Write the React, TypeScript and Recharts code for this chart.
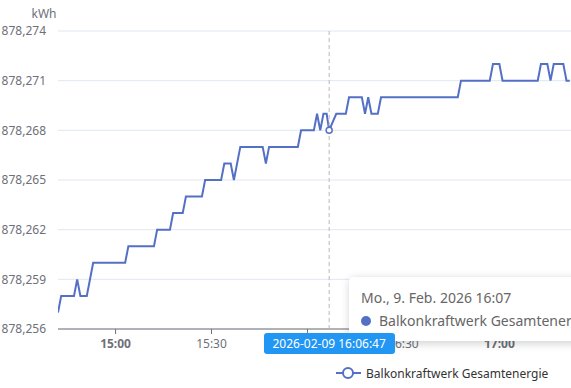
import { CartesianGrid, Legend, Line, LineChart, Tooltip, XAxis, YAxis } from "recharts"

// readings: time of day and meter value (kWh), only the points where the line turns
const times = [
  "14:42", "14:43", "14:47", "14:48", "14:49", "14:51", "14:53", "15:03", "15:04", "15:12",
  "15:13", "15:17", "15:18", "15:21", "15:22", "15:27", "15:28", "15:33", "15:34", "15:36",
  "15:37", "15:39", "15:46", "15:47", "15:48", "15:57", "15:58", "16:02", "16:03", "16:04",
  "16:05", "16:06", "16:06:47", "16:09", "16:12", "16:13", "16:17", "16:18", "16:19", "16:20",
  "16:22", "16:23", "16:47", "16:48", "16:57", "16:58", "17:00", "17:01", "17:12", "17:13",
  "17:15", "17:16", "17:17", "17:20", "17:21", "17:22",
]
const values = [
  878.257, 878.258, 878.258, 878.259, 878.258, 878.258, 878.26, 878.26, 878.261, 878.261,
  878.262, 878.262, 878.263, 878.263, 878.264, 878.264, 878.265, 878.265, 878.266, 878.266,
  878.265, 878.267, 878.267, 878.266, 878.267, 878.267, 878.268, 878.268, 878.269, 878.268,
  878.269, 878.269, 878.268, 878.269, 878.269, 878.27, 878.27, 878.269, 878.27, 878.269,
  878.269, 878.27, 878.27, 878.271, 878.271, 878.272, 878.272, 878.271, 878.271, 878.272,
  878.272, 878.271, 878.272, 878.272, 878.271, 878.271,
]
const yTicks = [878.256, 878.259, 878.262, 878.265, 878.268, 878.271, 878.274]
const xTicks = ["15:00", "15:30", "16:00", "16:30", "17:00"]
const xStart = "14:42"
const xEnd = "17:22:24"

const seriesName = "Balkonkraftwerk Gesamtenergie"
const unit = "kWh"
const hoverDate = "2026-02-09"
const hoverTime = "16:06:47"
const tooltipTitle = "Mo., 9. Feb. 2026 16:07"

const FONT = "'Noto Sans', sans-serif"
const LINE = "#5470c6"
const AXIS = "#6e7079"
const W = 571
const H = 388
const TOP = 31
const BOTTOM_SPACE = 59
const TIP = { x: 349, y: 277 }

function toMin(t: string) {
  const [h, m, s = "0"] = t.split(":")
  return Number(h) * 60 + Number(m) + Number(s) / 60
}

function fmtTime(v: number) {
  const h = Math.floor(v / 60)
  const m = Math.round(v - h * 60)
  return `${h}:${String(m).padStart(2, "0")}`
}

const data = times.map((t, i) => ({ t: toMin(t), v: values[i] }))
const hoverIndex = times.indexOf(hoverTime)

function XTick(props: any) {
  const { x, y, payload } = props
  const label = fmtTime(payload.value)
  const bold = label.endsWith(":00")
  return (
    <text x={x} y={y} dy="0.71em" textAnchor="middle" fill={AXIS} fontSize={12} fontWeight={bold ? 700 : 400}>
      {label}
    </text>
  )
}

function Pointer(props: any) {
  const { points } = props
  if (!points || points.length < 2) return null
  const x = points[0].x
  return <line x1={x} x2={x} y1={points[0].y} y2={points[1].y} stroke="#b8b8b8" strokeDasharray="4 3" />
}

function TipBox(props: any) {
  const color = props.payload?.[0]?.color || LINE
  const cx = props.coordinate?.x ?? 329.5
  const plotBottom = H - BOTTOM_SPACE
  return (
    <div style={{ position: "relative", fontFamily: FONT }}>
      <div
        style={{
          background: "#fff",
          borderRadius: 4,
          boxShadow: "rgba(0,0,0,0.2) 1px 2px 10px",
          padding: "10px 12px",
          width: 260,
          fontSize: 14,
          lineHeight: "21px",
          color: "#666",
          whiteSpace: "nowrap",
        }}
      >
        <div>{tooltipTitle}</div>
        <div style={{ marginTop: 2, display: "flex", alignItems: "center" }}>
          <span style={{ width: 10, height: 10, borderRadius: 5, background: color, marginRight: 8 }} />
          {seriesName}
        </div>
      </div>
      <div
        style={{
          position: "absolute",
          left: cx - 65.5 - TIP.x,
          top: plotBottom + 4 - TIP.y,
          width: 131,
          height: 21,
          lineHeight: "21px",
          borderRadius: 3,
          background: "#2196f3",
          color: "#fff",
          fontSize: 12,
          textAlign: "center",
          whiteSpace: "nowrap",
        }}
      >
        {hoverDate} {hoverTime}
      </div>
    </div>
  )
}

function LegendRow(props: any) {
  const item = props.payload?.[0]
  return (
    <div style={{ display: "flex", alignItems: "center", height: 30, paddingLeft: 336, fontFamily: FONT }}>
      <svg width={25} height={14} style={{ marginRight: 5 }}>
        <line x1={0} x2={25} y1={7} y2={7} stroke={LINE} strokeWidth={2} />
        <circle cx={12} cy={7} r={5} fill="#fff" stroke={LINE} strokeWidth={2} />
      </svg>
      <span style={{ fontSize: 12, color: "#333" }}>{item?.value ?? seriesName}</span>
    </div>
  )
}

export default function App() {
  return (
    <div style={{ width: W, height: H, overflow: "hidden", position: "relative" }}>
      <style>{`body{margin:0}`}</style>
      <LineChart
        width={W}
        height={H}
        data={data}
        margin={{ top: TOP, right: 0, bottom: 0, left: 0 }}
        style={{ fontFamily: FONT }}
      >
        <CartesianGrid vertical={false} stroke="#e0e6f1" />
        <YAxis
          type="number"
          domain={[yTicks[0], yTicks[yTicks.length - 1]]}
          ticks={yTicks}
          width={58}
          axisLine={false}
          tickLine={false}
          tickMargin={6}
          tick={{ fill: AXIS, fontSize: 12 }}
          tickFormatter={(v: number) => v.toFixed(3).replace(".", ",")}
          label={{
            content: (p: any) => (
              <text x={p.viewBox.x + p.viewBox.width - 14} y={p.viewBox.y - 17} dy="0.355em" textAnchor="middle" fill={AXIS} fontSize={12}>
                {unit}
              </text>
            ),
          }}
        />
        <XAxis
          dataKey="t"
          type="number"
          domain={[toMin(xStart), toMin(xEnd)]}
          ticks={xTicks.map(toMin)}
          allowDataOverflow
          height={29}
          tickSize={5}
          tickMargin={5}
          axisLine={{ stroke: AXIS }}
          tickLine={{ stroke: AXIS }}
          tick={<XTick />}
        />
        <Legend verticalAlign="bottom" align="left" height={30} content={<LegendRow />} wrapperStyle={{ left: 0, width: W }} />
        <Tooltip
          active
          defaultIndex={hoverIndex}
          position={TIP}
          allowEscapeViewBox={{ x: true, y: true }}
          cursor={<Pointer />}
          content={<TipBox />}
          isAnimationActive={false}
        />
        <Line
          type="linear"
          dataKey="v"
          name={seriesName}
          stroke={LINE}
          strokeWidth={2}
          dot={false}
          activeDot={{ r: 3, fill: "#fff", stroke: LINE, strokeWidth: 1.5 }}
          isAnimationActive={false}
        />
      </LineChart>
    </div>
  )
}
